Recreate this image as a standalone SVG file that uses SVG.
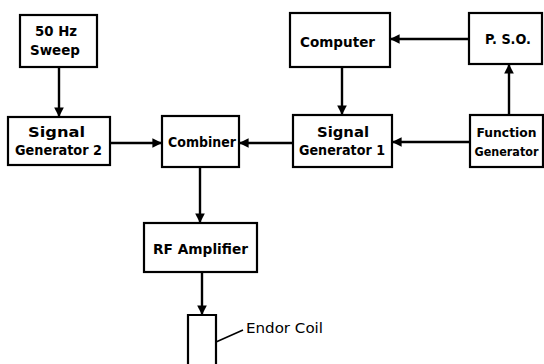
<svg xmlns="http://www.w3.org/2000/svg" width="544" height="364" viewBox="0 0 544 364">
<defs>
<marker id="ah" viewBox="0 0 10 10" refX="10" refY="5" markerWidth="4" markerHeight="4" orient="auto" markerUnits="strokeWidth">
<path d="M0,0 L10,5 L0,10 Z" fill="#000"/>
</marker>
<style>
.box{fill:#fff;stroke:#000;stroke-width:2.2}
.t{font-family:"DejaVu Sans",sans-serif;font-weight:bold;font-size:14.5px;text-anchor:middle;fill:#000}
.fg{font-size:12.5px}
.fg2{font-size:11.5px}
.lbl{font-family:"DejaVu Sans",sans-serif;font-size:14.5px;fill:#000}
.c{stroke:#000;stroke-width:2.4;fill:none}
.ar{marker-end:url(#ah)}
</style>
</defs>
<rect width="544" height="364" fill="#fff"/>
<g id="connectors">
<line class="c ar" x1="59" y1="67" x2="59" y2="117"/>
<line class="c ar" x1="110" y1="143" x2="162" y2="143"/>
<line class="c ar" x1="293" y1="143" x2="239" y2="143"/>
<line class="c ar" x1="342" y1="67" x2="342" y2="115"/>
<line class="c ar" x1="469" y1="39" x2="390" y2="39"/>
<line class="c ar" x1="509" y1="115" x2="509" y2="64"/>
<line class="c ar" x1="470" y1="142" x2="392" y2="142"/>
<line class="c ar" x1="200" y1="167" x2="200" y2="223"/>
<line class="c ar" x1="202" y1="272" x2="202" y2="315"/>
<line class="c" x1="216" y1="342" x2="243" y2="330" style="stroke-width:1.6"/>
</g>
<g id="sweep">
<rect class="box" x="20" y="15" width="77" height="52"/>
<text class="t" x="56" y="36" textLength="42" lengthAdjust="spacingAndGlyphs">50 Hz</text>
<text class="t" x="55" y="55" textLength="50" lengthAdjust="spacingAndGlyphs">Sweep</text>
</g>
<g id="siggen2">
<rect class="box" x="8" y="117" width="102" height="48"/>
<text class="t" x="56.5" y="137" textLength="57" lengthAdjust="spacingAndGlyphs">Signal</text>
<text class="t" x="58.5" y="155" textLength="87" lengthAdjust="spacingAndGlyphs">Generator 2</text>
</g>
<g id="combiner">
<rect class="box" x="162" y="116" width="77" height="51"/>
<text class="t" x="202" y="147" textLength="68" lengthAdjust="spacingAndGlyphs">Combiner</text>
</g>
<g id="computer">
<rect class="box" x="290" y="13" width="100" height="54"/>
<text class="t" x="337.5" y="47" textLength="75" lengthAdjust="spacingAndGlyphs">Computer</text>
</g>
<g id="pso">
<rect class="box" x="469" y="13" width="73" height="51"/>
<text class="t" x="508" y="44" textLength="46" lengthAdjust="spacingAndGlyphs">P. S.O.</text>
</g>
<g id="siggen1">
<rect class="box" x="293" y="115" width="99" height="52"/>
<text class="t" x="343" y="137" textLength="52" lengthAdjust="spacingAndGlyphs">Signal</text>
<text class="t" x="342" y="155" textLength="86" lengthAdjust="spacingAndGlyphs">Generator 1</text>
</g>
<g id="funcgen">
<rect class="box" x="470" y="115" width="73" height="52"/>
<text class="t fg" x="506.5" y="137" textLength="60" lengthAdjust="spacingAndGlyphs">Function</text>
<text class="t fg2" x="506.5" y="156" textLength="64" lengthAdjust="spacingAndGlyphs">Generator</text>
</g>
<g id="rfamp">
<rect class="box" x="144" y="223" width="113" height="49"/>
<text class="t" x="200.5" y="254" textLength="95" lengthAdjust="spacingAndGlyphs">RF Amplifier</text>
</g>
<g id="coil">
<path class="box" d="M188,366 L188,315 L216,315 L216,366"/>
<text class="lbl" x="246" y="333" textLength="77" lengthAdjust="spacingAndGlyphs">Endor Coil</text>
</g>
</svg>
